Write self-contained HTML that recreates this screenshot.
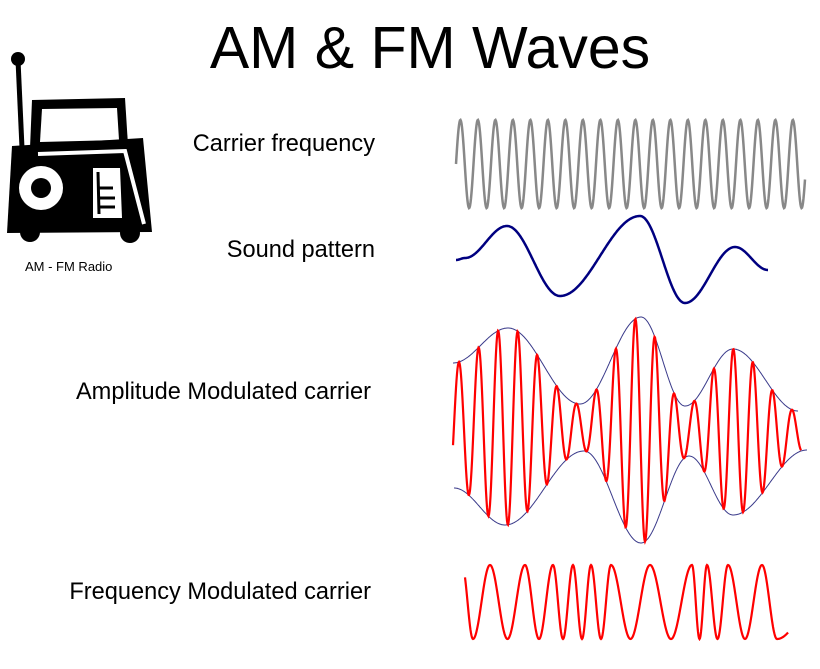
<!DOCTYPE html>
<html><head><meta charset="utf-8"><style>
html,body{margin:0;padding:0;background:#fff;}
body{width:820px;height:669px;position:relative;overflow:hidden;font-family:"Liberation Sans",Arial,sans-serif;}
.t{position:absolute;white-space:nowrap;color:#000;}
.l{font-size:23.6px;right:445px;}
</style></head><body>
<div class="t" style="left:0;width:860px;text-align:center;top:14px;font-size:59px;">AM &amp; FM Waves</div>
<div class="t l" style="top:131px;">Carrier frequency</div>
<div class="t l" style="top:237px;">Sound pattern</div>
<div class="t l" style="top:379px;right:449px;">Amplitude Modulated carrier</div>
<div class="t l" style="top:579px;right:449px;">Frequency Modulated carrier</div>
<div class="t" style="left:25px;top:259px;font-size:13px;">AM - FM Radio</div>
<svg width="820" height="669" style="position:absolute;left:0;top:0">
 <line x1="18" y1="60" x2="22" y2="148" stroke="#000" stroke-width="5"/>
 <circle cx="18" cy="59" r="7" fill="#000"/>
 <polygon points="32,100 125,98 128,145 30,148" fill="#000"/>
 <polygon points="42,109 117,108 119,140 40,142" fill="#fff"/>
 <polygon points="12,146 143,138 152,232 7,233" fill="#000"/>
 <circle cx="30" cy="232" r="10" fill="#000"/>
 <circle cx="130" cy="233" r="10" fill="#000"/>
 <polyline points="38,154 125,151 144,224" fill="none" stroke="#fff" stroke-width="4"/>
 <circle cx="41" cy="188" r="22" fill="#fff"/>
 <circle cx="41" cy="188" r="10" fill="#000"/>
 <polygon points="93,168 120,168 122,218 93,218" fill="#fff"/>
 <line x1="98" y1="172" x2="99" y2="214" stroke="#000" stroke-width="3"/>
 <line x1="98" y1="188" x2="113" y2="188" stroke="#000" stroke-width="3"/>
 <line x1="98" y1="198" x2="115" y2="198" stroke="#000" stroke-width="3"/>
 <line x1="98" y1="207" x2="115" y2="207" stroke="#000" stroke-width="3"/>
 <path id="car" fill="none" stroke="#888" stroke-width="2.5"/>
 <path id="snd" fill="none" stroke="#000080" stroke-width="2.5"/>
 <path id="et" fill="none" stroke="#3a3a8a" stroke-width="1"/>
 <path id="eb" fill="none" stroke="#3a3a8a" stroke-width="1"/>
 <path id="am" fill="none" stroke="#f00" stroke-width="2.2"/>
 <path id="fm" fill="none" stroke="#f00" stroke-width="2.2"/>
</svg>
<script>
function interp(pts,x){
 if(x<=pts[0][0])return pts[0][1];
 for(var i=0;i<pts.length-1;i++){var a=pts[i],b=pts[i+1];
  if(x<=b[0]){var t=(x-a[0])/(b[0]-a[0]);t=(1-Math.cos(Math.PI*t))/2;return a[1]+(b[1]-a[1])*t;}}
 return pts[pts.length-1][1];}
function lin(pts,x){
 if(x<=pts[0][0])return pts[0][1];
 for(var i=0;i<pts.length-1;i++){var a=pts[i],b=pts[i+1];
  if(x<=b[0]){var t=(x-a[0])/(b[0]-a[0]);return a[1]+(b[1]-a[1])*t;}}
 return pts[pts.length-1][1];}
function mk(id,x0,x1,f){var d='';for(var x=x0;x<=x1;x+=0.5){d+=(x==x0?'M':'L')+x.toFixed(1)+','+f(x).toFixed(1);}document.getElementById(id).setAttribute('d',d);}
mk('car',456,805,function(x){return 164-44*Math.sin((x-456)/17.5*2*Math.PI);});
var S=[[456,260],[465,258],[507,226],[560,296],[640,216],[685,303],[735,247],[768,270]];
mk('snd',456,768,function(x){return interp(S,x);});
var T=[[453,363],[508,328],[580,404],[641,317],[685,406],[733,349],[798,411]];
var B=[[454,488],[505,525],[584,451],[641,543],[689,456],[733,515],[807,450]];
mk('et',453,798,function(x){return interp(T,x);});
mk('eb',454,807,function(x){return interp(B,x);});
mk('am',453,801,function(x){var t=interp(T,x),b=interp(B,x);return (t+b)/2-(b-t)/2*Math.sin((x-454)/19.6*2*Math.PI);});
var P=Math.PI,F=[[465,-3.87],[473,-P/2]];
var pk=[490,525,553,573,591,611,650,692,707,728,762];
for(var k=0;k<pk.length;k++)F.push([pk[k],P/2+2*P*k]);
F.push([777,P*1.5+2*P*10]);F.push([788,P*1.5+2*P*10+0.6]);
mk('fm',465,788,function(x){return 602-37*Math.sin(lin(F,x));});
</script>
</body></html>
